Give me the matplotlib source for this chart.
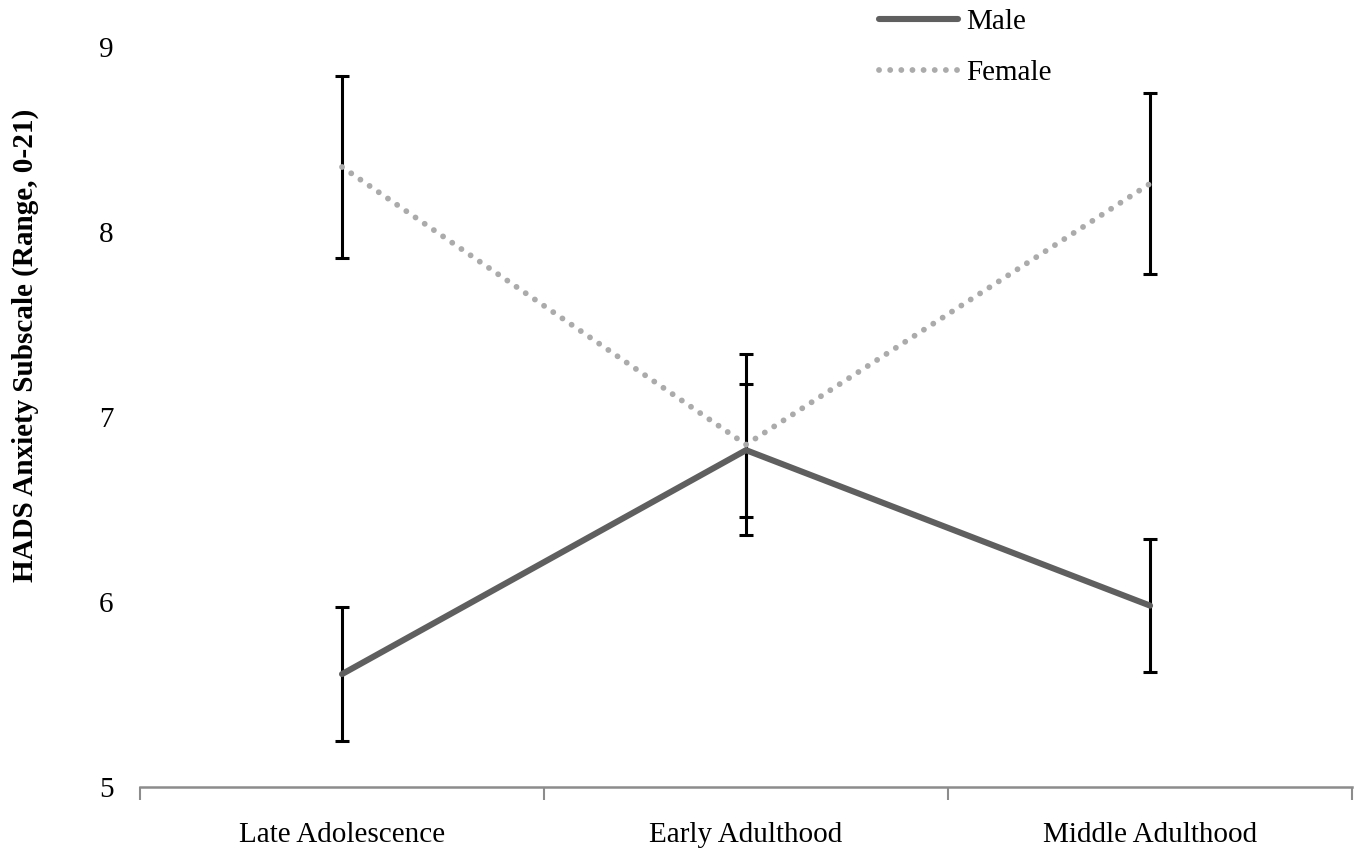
import matplotlib
matplotlib.use("Agg")
import matplotlib.pyplot as plt
import numpy as np

categories = ["Late Adolescence", "Early Adulthood", "Middle Adulthood"]
male_mean = [5.61, 6.82, 5.98]
male_err = [0.36, 0.36, 0.36]
female_mean = [8.35, 6.85, 8.26]
female_err = [0.49, 0.49, 0.49]
y_ticks = [5, 6, 7, 8, 9]

plt.rcParams['font.family'] = ['Liberation Serif', 'DejaVu Serif']

fig = plt.figure(figsize=(13.66, 8.52), dpi=100)
ax = fig.add_axes([0.1025, 0.0763, 0.8873, 0.8689])

x = np.arange(len(categories))

ax.errorbar(x, male_mean, yerr=male_err, fmt='none', ecolor='black',
            elinewidth=2.2, capsize=5, capthick=2.2, zorder=2)
ax.errorbar(x, female_mean, yerr=female_err, fmt='none', ecolor='black',
            elinewidth=2.2, capsize=5, capthick=2.2, zorder=2)

ax.plot(x, male_mean, color='#5f5f5f', linewidth=4.4, solid_capstyle='round',
        label='Male', zorder=3)
ax.plot(x, female_mean, color='#ababab', linewidth=4.2,
        linestyle=(0, (0.01, 1.9)), dash_capstyle='round', label='Female', zorder=3)

ax.set_xlim(-0.5, 2.5)
ax.set_ylim(5, 9)
ax.set_yticks(y_ticks)
ax.set_yticklabels([str(v) for v in y_ticks])
ax.set_xticks(x)
ax.set_xticklabels(categories)
ax.set_xticks([-0.5, 0.5, 1.5, 2.5], minor=True)

ax.tick_params(axis='x', which='major', length=0, pad=25, labelsize=21)
ax.tick_params(axis='x', which='minor', length=9, width=1.5, color='#8c8c8c', direction='out')
ax.tick_params(axis='y', length=0, pad=19, labelsize=21)

for s in ['top', 'right', 'left']:
    ax.spines[s].set_visible(False)
ax.spines['bottom'].set_color('#8c8c8c')
ax.spines['bottom'].set_linewidth(1.8)

ax.set_ylabel('HADS Anxiety Subscale (Range, 0-21)', fontsize=21, fontweight='bold')
ax.yaxis.set_label_coords(-0.083, 0.596)

leg = ax.legend(loc='upper left', bbox_to_anchor=(0.6, 1.067), frameon=False, fontsize=21,
                handlelength=2.7, handletextpad=0.3, labelspacing=0.85, borderaxespad=0)

fig.savefig('out.png', dpi=100, facecolor='white')
